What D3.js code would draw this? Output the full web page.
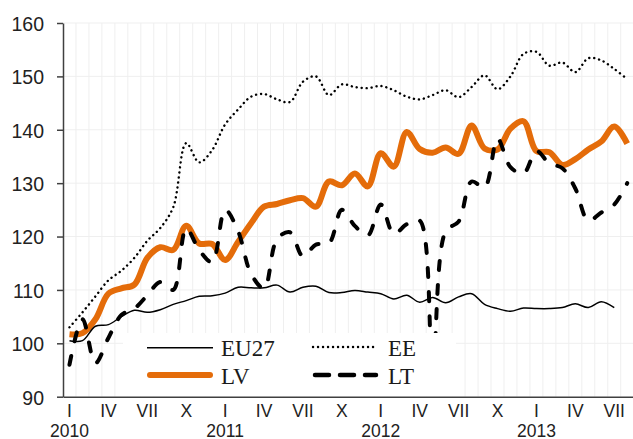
<!DOCTYPE html>
<html lang="en">
<head>
<meta charset="utf-8">
<title>Price index EU27, EE, LV, LT</title>
<script src="https://cdn.jsdelivr.net/npm/d3@7"></script>
<style>
  body { margin: 0; background: #fff; }
  .tick text { font-family: "Liberation Sans", Arial, sans-serif; fill: #222; }
  .year { font-family: "Liberation Sans", Arial, sans-serif; font-size: 17.5px; fill: #222; }
  .legend-label { font-family: "Liberation Serif", "Times New Roman", serif; font-size: 23px; fill: #1a1a1a; }
</style>
</head>
<body>
<div id="chart"></div>
<script>
'use strict';

// monthly index, Jan 2010 = month 0
const years = ["2010", "2011", "2012", "2013"];
const quarterLabels = ["I", "IV", "VII", "X"];
const yTicks = [90, 100, 110, 120, 130, 140, 150, 160];
const monthCount = 44;

const eu27 = [100.5, 100.5, 103.2, 103.5, 105, 106.2, 105.8, 106.3, 107.3, 108, 108.8, 108.9,
    109.4, 110.5, 110.4, 110.4, 110.9, 109.6, 110.5, 110.7, 109.5, 109.5, 109.9, 109.6,
    109.3, 108.3, 109, 107.7, 108.6, 107.6, 108.7, 109.3, 107.3, 106.5, 106, 106.6,
    106.5, 106.5, 106.7, 107.4, 106.7, 107.8, 106.7];
const ee = [103, 105.8, 108.8, 111.8, 113.6, 116, 119.2, 121.6, 125.5, 137.5, 133.9, 136.2,
    141, 143.8, 146.2, 146.7, 145.7, 145.2, 149, 150, 146.5, 148.5, 148, 147.8,
    148.2, 147.4, 146.2, 145.7, 146.5, 147.4, 146.1, 148, 150.2, 147.6, 150, 154.2,
    154.6, 152, 152.6, 150.8, 153.4, 153, 151.4, 149.5];
const lv = [101.7, 101.9, 104.5, 109.3, 110.3, 111, 116, 118, 117.5, 122, 118.7, 118.6,
    115.6, 119, 122.5, 125.6, 126.1, 126.8, 127.2, 125.6, 130.3, 129.6, 131.8, 129.4,
    135.6, 133.1, 139.6, 136.4, 135.7, 136.7, 135.5, 140.8, 136.5, 136.3, 140.2, 141.6,
    136, 135.8, 133.4, 134.5, 136.3, 137.8, 140.6, 137.4];
const lt = [96, 104.5, 96.3, 101, 105.3, 106.5, 109, 111.5, 110, 121.5, 117.5, 115.2,
    125, 121, 113, 110.3, 119.5, 120.8, 116.3, 118.5, 118.7, 125, 122, 120.2,
    126, 120.5, 122.3, 123, 96, 121, 122.8, 130.3, 129.2, 138.3, 133, 131.8,
    136, 133.7, 132.8, 129, 123, 124.5, 126, 130];

const width = 633, height = 439;
const plot = {left: 63, right: 633.7, top: 23, bottom: 396.7};
const orange = "#e46c0a";

const svg = d3.select("#chart").append("svg")
    .attr("width", width)
    .attr("height", height);

const months = d3.range(monthCount);
const x = d3.scaleBand().domain(months).range([plot.left, plot.right]).padding(0);
const y = d3.scaleLinear().domain([90, 160]).range([plot.bottom, plot.top]);
const cx = (i) => x(i) + x.bandwidth() / 2;

// grid
const grid = svg.append("g").attr("stroke", "#efefef").attr("stroke-width", 1);
grid.selectAll(".hg").data(yTicks.slice(1)).enter().append("line")
    .attr("x1", plot.left).attr("x2", width)
    .attr("y1", (d) => y(d)).attr("y2", (d) => y(d));
grid.selectAll(".vg").data(months.slice(1)).enter().append("line")
    .attr("x1", (d) => x(d)).attr("x2", (d) => x(d))
    .attr("y1", plot.top).attr("y2", plot.bottom);

// series
const line = d3.line()
    .x((d, i) => cx(i))
    .y((d) => y(d))
    .curve(d3.curveCatmullRom.alpha(0.5));

svg.append("path").datum(lv)
    .attr("fill", "none").attr("stroke", orange).attr("stroke-width", 6)
    .attr("stroke-linejoin", "round").attr("d", line);
svg.append("path").datum(eu27)
    .attr("fill", "none").attr("stroke", "#000").attr("stroke-width", 1.5)
    .attr("d", line);
svg.append("path").datum(ee)
    .attr("fill", "none").attr("stroke", "#000").attr("stroke-width", 2.4)
    .attr("stroke-linecap", "round").attr("stroke-dasharray", "0.1 4.9")
    .attr("d", line);
svg.append("path").datum(lt)
    .attr("fill", "none").attr("stroke", "#000").attr("stroke-width", 4)
    .attr("stroke-linecap", "round").attr("stroke-dasharray", "9 15")
    .attr("d", line);

// legend
const legend = svg.append("g");
legend.append("rect")
    .attr("x", 123).attr("y", 333)
    .attr("width", 333).attr("height", plot.bottom - 333)
    .attr("fill", "#fff");

const legendItems = [
    {name: "EU27", x: 147, y: 347.7, color: "#000", w: 1.5, dash: null, cap: "butt"},
    {name: "LV", x: 150, y: 375, color: orange, w: 6, dash: null, cap: "round"},
    {name: "EE", x: 313, y: 347, color: "#000", w: 2.4, dash: "0.1 4.9", cap: "round"},
    {name: "LT", x: 315, y: 375, color: "#000", w: 4.5, dash: "14 11", cap: "round"}
];
legendItems.forEach((d) => {
    legend.append("line")
        .attr("x1", d.x).attr("x2", d.name === "EU27" ? 213 : (d.name === "LV" ? 210 : 376))
        .attr("y1", d.y).attr("y2", d.y)
        .attr("stroke", d.color).attr("stroke-width", d.w)
        .attr("stroke-linecap", d.cap)
        .attr("stroke-dasharray", d.dash);
    legend.append("text")
        .attr("class", "legend-label")
        .attr("x", d.x < 200 ? 221 : 388)
        .attr("y", d.y + 8.5)
        .text(d.name);
});

// axes
const yAxis = d3.axisLeft(y).tickValues(yTicks).tickSize(6).tickSizeOuter(0).tickPadding(13);
const gy = svg.append("g").attr("transform", `translate(${plot.left},0)`).call(yAxis);
gy.selectAll("text").style("font-size", "19.5px").attr("dy", "0.38em");
gy.selectAll("line, path").attr("stroke", "#404040").attr("stroke-width", 1.5);

const xAxis = d3.axisBottom(x)
    .tickValues(months.filter((m) => m % 3 === 0))
    .tickFormat((m) => quarterLabels[(m % 12) / 3])
    .tickSize(0).tickSizeOuter(0).tickPadding(7.5);
const gx = svg.append("g").attr("transform", `translate(0,${plot.bottom})`).call(xAxis);
gx.selectAll("text").style("font-size", "17.5px");
gx.select("path").attr("stroke", "#404040").attr("stroke-width", 1.5);

svg.selectAll(".year").data(years).enter().append("text")
    .attr("class", "year")
    .attr("x", (d, i) => cx(i * 12))
    .attr("y", 436.5)
    .attr("text-anchor", "middle")
    .text((d) => d);
</script>
</body>
</html>
